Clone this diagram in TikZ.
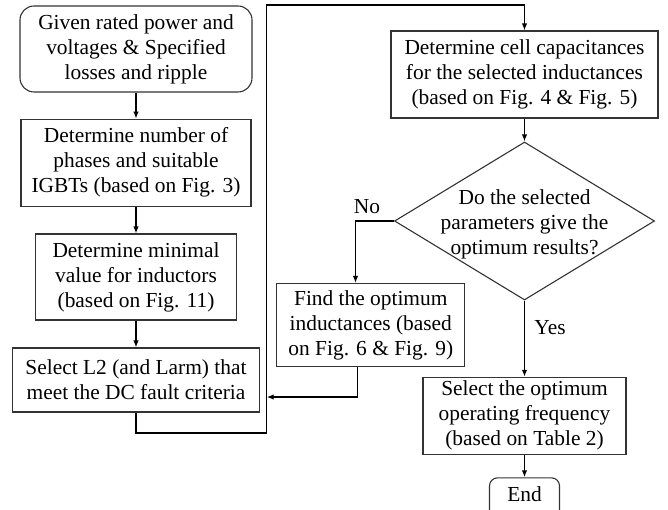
\documentclass[tikz,border=0pt]{standalone}
\usepackage{fontspec}
\setmainfont{Liberation Serif}
\usetikzlibrary{arrows.meta,shapes.geometric}
\begin{document}
\begin{tikzpicture}[x=1pt,y=-1pt,
  every node/.style={font=\fontsize{21.4}{25}\selectfont},
  box/.style={draw=black!80,line width=1.1pt,rectangle,inner sep=0pt,align=center},
  rbox/.style={box,rounded corners=14pt},
  conn/.style={line width=1.5pt,draw=black},
  arr/.style={conn,-{Latex[length=7pt,width=5.5pt]}},
  lbl/.style={inner sep=0pt}]
\clip (0,0) rectangle (668,510);
\fill[white] (0,0) rectangle (668,510);

% left column
\node[rbox,minimum width=232pt,minimum height=86pt] (start) at (136,49)
  {Given rated power and\\voltages \& Specified\\losses and ripple};
\node[box,minimum width=230pt,minimum height=87pt] (b2) at (136,162.7)
  {Determine number of\\phases and suitable\\IGBTs (based on Fig. 3)};
\node[box,minimum width=201pt,minimum height=86pt] (b3) at (136,277)
  {Determine minimal\\value for inductors\\(based on Fig. 11)};
\node[box,minimum width=247pt,minimum height=64pt] (b4) at (136,380)
  {Select L2 (and Larm) that\\meet the DC fault criteria};

% right column
\node[box,minimum width=267pt,minimum height=87pt] (cap) at (524.5,74.5)
  {Determine cell capacitances\\for the selected inductances\\(based on Fig. 4 \& Fig. 5)};
\node[draw=black!80,line width=1.1pt,diamond,inner sep=0pt,minimum width=260pt,minimum height=158pt] (dia) at (524.5,221) {};
\node[lbl,align=center] (diatext) at (524.5,224) {Do the selected\\parameters give the\\optimum results?};
\node[box,minimum width=188pt,minimum height=83pt] (find) at (370.8,325)
  {Find the optimum\\inductances (based\\on Fig. 6 \& Fig. 9)};
\node[box,minimum width=203pt,minimum height=77pt] (sel) at (524.5,415.8)
  {Select the optimum\\operating frequency\\(based on Table 2)};
\node[rbox,rounded corners=8pt,minimum width=70pt,minimum height=40pt,anchor=north] (endn) at (524.5,477.3) {};
\node[lbl] (endtext) at (524.5,494) {End};

% labels
\node[lbl] (no) at (367,207) {No};
\node[lbl] (yes) at (550,328) {Yes};

% helper coordinates
\coordinate (c1) at (266.7,433);
\coordinate (c2) at (266.7,5);
\coordinate (nob) at (355.5,221);
\coordinate (fout) at (357.7,397);

% connectors
\draw[arr] (start) -- (b2);
\draw[arr] (b2) -- (b3);
\draw[arr] (b3) -- (b4);
\draw[arr] (b4.south) |- (c1) -- (c2) -| (cap.north);
\draw[arr] (cap) -- (dia.north);
\draw[arr] (dia.west) -- (nob) -- (nob |- find.north);
\draw[arr] (dia.south) -- (sel.north);
\draw[arr] (sel) -- (endn.north);
\draw[arr] (fout |- find.south) -- (fout) -- (fout -| c1);
\end{tikzpicture}
\end{document}
